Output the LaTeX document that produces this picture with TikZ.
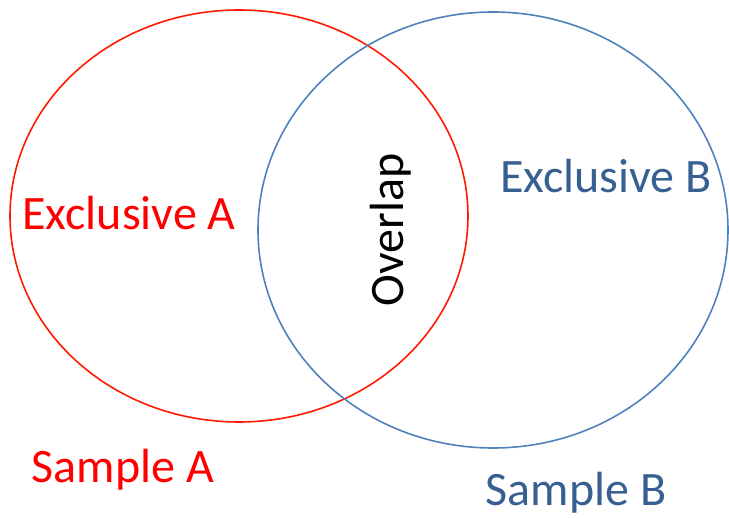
\documentclass[tikz,border=0pt]{standalone}
\usepackage{fontspec}
\setmainfont{Carlito}
\definecolor{setred}{HTML}{FF1A00}
\definecolor{setblue}{HTML}{4F81BD}
\definecolor{labelblue}{HTML}{376092}
\begin{document}
\begin{tikzpicture}[x=1pt,y=1pt,
  setline/.style={line width=1.6pt},
  lbl/.style={inner sep=0pt,font=\fontsize{48}{52}\selectfont}]
\useasboundingbox (0,0) rectangle (729,519);
% the two samples
\draw[setline,setred] (239,303) ellipse [x radius=229, y radius=206];
\draw[setline,setblue] (493,289) ellipse [x radius=235, y radius=218];
% region labels
\node[lbl,text=red] (exA) at (129,306) {Exclusive A};
\node[lbl,text=black,rotate=90] (ovl) at (391,289) {Overlap};
\node[lbl,text=labelblue] (exB) at (606,343) {Exclusive B};
\node[lbl,text=red] (smA) at (123,49) {Sample A};
\node[lbl,text=labelblue] (smB) at (576,26) {Sample B};
\end{tikzpicture}
\end{document}
